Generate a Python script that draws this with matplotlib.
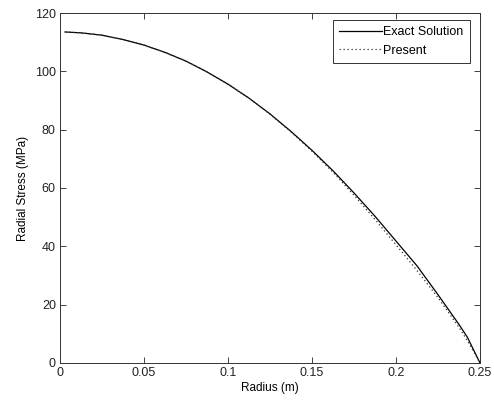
import matplotlib
matplotlib.use("Agg")
import matplotlib.pyplot as plt

plt.rcParams['font.family'] = ['Liberation Sans', 'DejaVu Sans']

radius = [0.003, 0.0125, 0.025, 0.0375, 0.05, 0.0625, 0.075, 0.0875, 0.1, 0.1125,
          0.125, 0.1375, 0.15, 0.1625, 0.175, 0.1875, 0.2, 0.2125, 0.225, 0.2375,
          0.2425, 0.25]
exact = [113.5, 113.2, 112.4, 110.9, 109.0, 106.5, 103.5, 99.8, 95.6, 90.8,
         85.4, 79.4, 72.9, 65.9, 58.3, 50.3, 41.8, 33.3, 23.4, 13.2,
         8.8, 0.0]
present = [113.5, 113.2, 112.4, 110.9, 109.0, 106.5, 103.5, 99.8, 95.6, 90.8,
           85.3, 79.2, 72.6, 65.4, 57.5, 49.2, 40.5, 31.7, 22.4, 12.2,
           7.6, 0.0]

fig = plt.figure(figsize=(4.94, 4.03), dpi=100)
ax = fig.add_axes([0.1215, 0.0993, 0.8502, 0.8684])

ax.plot(radius, exact, color='black', linewidth=0.9, label='Exact Solution')
ax.plot(radius, present, color='#333333', linewidth=0.9, linestyle=(0, (1, 2.2)),
        label='Present')

ax.set_xlim(0, 0.25)
ax.set_ylim(0, 120)
ax.set_xticks([0, 0.05, 0.1, 0.15, 0.2, 0.25])
ax.set_xticklabels(['0', '0.05', '0.1', '0.15', '0.2', '0.25'])
ax.set_yticks(range(0, 121, 20))
ax.tick_params(direction='in', top=True, right=True, length=4, width=0.6,
               labelsize=9, pad=3, colors='#222222')
for s in ax.spines.values():
    s.set_linewidth(0.7)
    s.set_color('#333333')

ax.set_xlabel('Radius (m)', fontsize=8.5, labelpad=2)
ax.set_ylabel('Radial Stress (MPa)', fontsize=8.5, labelpad=4)

leg = ax.legend(loc='upper right', bbox_to_anchor=(0.976, 0.98), fontsize=9,
                frameon=True, fancybox=False, handlelength=3.4,
                borderaxespad=0.0, labelspacing=0.5, handletextpad=0.15,
                borderpad=0.5)
leg.get_frame().set_edgecolor('black')
leg.get_frame().set_linewidth(0.7)

fig.savefig('out.png', dpi=100)
